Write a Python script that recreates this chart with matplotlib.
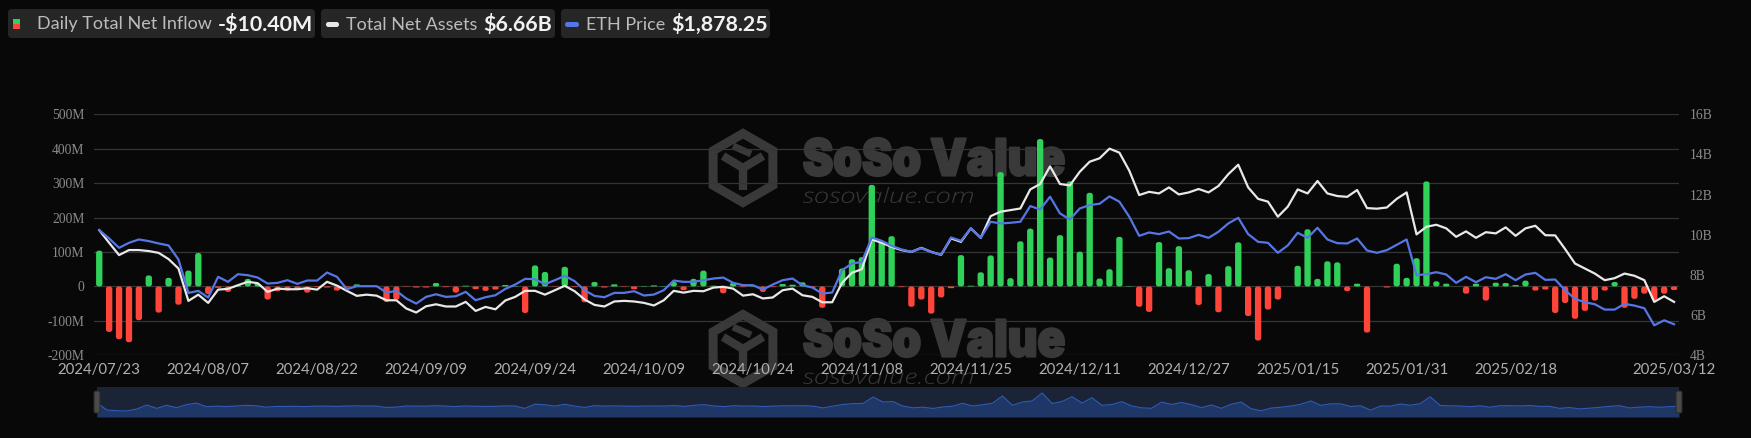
import numpy as np
import pandas as pd
import matplotlib
matplotlib.use("Agg")
import matplotlib.pyplot as plt
from matplotlib.patches import FancyBboxPatch, Polygon, PathPatch, Rectangle
from matplotlib.textpath import TextPath
from matplotlib.font_manager import FontProperties
from matplotlib.transforms import Affine2D

# ---------------- data ----------------
holidays = ["2024-09-02", "2024-11-28", "2024-12-25", "2025-01-01",
            "2025-01-09", "2025-01-20", "2025-02-17"]
trade_days = pd.bdate_range("2024-07-23", "2025-03-12", freq="C", holidays=holidays)
dates = [d.strftime("%Y/%m/%d") for d in trade_days]

net_inflow_m = [
    104, -132, -153, -162, -98, 32, -76, 25, -53, 46,
    97, -22, -4, -16, 2, 22, 8, -38, -14, -12,
    -10, -18, -2, -3, -12, -3, 6, -1, 1, -45,
    -38, -1, -3, -3, 10, -2, -18, 2, -8, -13,
    -9, 4, 1, -77, 61, 42, -1, 57, -2, -46,
    13, -3, 6, -1, -8, 1, 3, 1, 13, -11,
    22, 46, 2, -20, 10, -2, 1, -16, -2, 7,
    5, 12, -4, -62, 0, 52, 79, 85, 295, 132,
    146, -2, -59, -38, -79, -32, -5, 91, 2, 41,
    90, 332, 24, 131, 168, 428, 84, 149, 305, 101,
    272, 23, 50, 144, 1, -59, -74, 129, 53, 117,
    47, -54, 36, -75, 59, 128, -86, -157, -67, -38,
    0, 60, 166, 22, 73, 70, -14, 8, -134, 0,
    -3, 66, 25, 82, 305, 15, 8, 0, -21, 8,
    -41, 11, 10, 4, 17, -12, -9, -77, -48, -94,
    -71, -41, -12, 13, -62, -36, -21, -39, -21, -10.40,
]

total_net_assets_b = [
    10.23, 9.60, 8.99, 9.24, 9.24, 9.19, 9.10, 8.79, 8.32, 6.71,
    7.02, 6.61, 7.27, 7.31, 7.49, 7.66, 7.59, 7.16, 7.32, 7.29,
    7.29, 7.34, 7.27, 7.66, 7.47, 7.21, 6.96, 7.02, 6.97, 6.74,
    6.74, 6.33,
    6.13, 6.44, 6.54, 6.43, 6.43, 6.66, 6.21, 6.41, 6.29, 6.73,
    6.91, 7.21, 7.21, 7.02, 7.24, 7.46, 7.19, 6.78, 6.51, 6.43,
    6.68, 6.71, 6.68, 6.61, 6.48, 6.74, 7.21, 7.12, 7.21, 7.19,
    7.37, 7.41,
    7.32, 6.97, 7.04, 6.83, 6.88, 7.24, 7.32, 6.99, 6.91, 6.64,
    6.64, 7.61, 8.11, 8.29, 9.77, 9.60, 9.40, 9.24, 9.15, 9.35,
    9.15, 9.00, 9.82, 9.65, 10.32, 9.85, 10.93, 11.15, 11.23, 11.31,
    12.26, 12.53,
    13.41, 12.53, 12.46, 13.14, 13.64, 13.81, 14.29, 14.09, 13.19, 11.98,
    12.14, 12.06, 12.36, 12.01, 12.11, 12.28, 12.11, 12.43, 13.02, 13.49,
    12.36, 11.79, 11.65, 10.90, 11.40, 12.26, 12.06, 12.68, 12.06, 11.93,
    11.89, 12.23,
    11.33, 11.30, 11.36, 11.79, 12.11, 10.02, 10.40, 10.50, 10.32, 9.90,
    10.17, 9.85, 10.13, 10.07, 10.37, 9.95, 10.32, 10.45, 9.98, 9.97,
    9.29, 8.57, 8.32, 8.07, 7.74, 7.84, 8.07, 7.96, 7.74, 6.66,
    6.94, 6.66,
]

eth_price = [
    3480, 3338, 3179, 3264, 3321, 3293, 3253, 3219, 2980, 2412,
    2446, 2333, 2685, 2600, 2730, 2713, 2673, 2571, 2583, 2628,
    2566, 2622, 2622, 2759, 2685, 2475, 2526, 2526, 2526, 2418,
    2446, 2316,
    2230, 2344, 2389, 2344, 2355, 2429, 2287, 2338, 2372, 2480,
    2554, 2651, 2645, 2560, 2628, 2702, 2611, 2458, 2361, 2338,
    2412, 2412, 2441, 2367, 2384, 2458, 2622, 2600, 2600, 2628,
    2656, 2673,
    2583, 2543, 2543, 2469, 2554, 2628, 2656, 2543, 2503, 2401,
    2418, 2798, 2912, 2940, 3355, 3298, 3213, 3151, 3111, 3173,
    3105, 3060, 3355, 3298, 3508, 3349, 3622, 3594, 3605, 3622,
    3889, 3832,
    4048, 3764, 3662, 3849, 3906, 3929, 4054, 3963, 3707, 3383,
    3440, 3412, 3457, 3338, 3344, 3400, 3349, 3452, 3594, 3690,
    3412, 3281, 3264, 3094, 3219, 3435, 3349, 3520, 3321, 3258,
    3253, 3338,
    3134, 3094, 3139, 3230, 3321, 2713, 2730, 2764, 2725, 2583,
    2685, 2594, 2679, 2651, 2730, 2628, 2725, 2753, 2634, 2639,
    2458, 2310, 2253, 2219, 2128, 2128, 2225, 2196, 2151, 1861,
    1946, 1878.25,
]

left_ticks_m = [-200, -100, 0, 100, 200, 300, 400, 500]
right_ticks_b = [4, 6, 8, 10, 12, 14, 16]
eth_axis_range = [1350, 5451]
label_step = 11

legend_labels = ["Daily Total Net Inflow", "Total Net Assets", "ETH Price"]
legend_values = ["-$10.40M", "$6.66B", "$1,878.25"]

# ---------------- style ----------------
BG = "#080808"
GRID = "#353535"
GREEN = "#30d158"
RED = "#ff453a"
WHITE_LINE = "#e8e8e8"
BLUE_LINE = "#5676e6"
WM = "#393939"
BOX = "#262626"

W, H = 1751, 438
PL, PR, PT, PB = 94.3, 1679.0, 114.3, 355.3


def frac(x0, y0, x1, y1):
    return [x0 / W, 1 - y1 / H, (x1 - x0) / W, (y1 - y0) / H]


fig = plt.figure(figsize=(W / 100, H / 100), dpi=100, facecolor=BG)

# background overlay (watermark)
bg = fig.add_axes([0, 0, 1, 1], zorder=0)
bg.set_xlim(0, W)
bg.set_ylim(H, 0)
bg.axis("off")
bg.set_facecolor(BG)


def text_patch(axp, s, x0, x1, ytop, ybot, fam, weight, style, color, stroke=0):
    tp = TextPath((0, 0), s, size=100,
                  prop=FontProperties(family=fam, weight=weight, style=style))
    bb = tp.get_extents()
    sx = (x1 - x0) / bb.width
    sy = (ybot - ytop) / bb.height
    tr = Affine2D().translate(-bb.x0, -bb.y0).scale(sx, -sy).translate(x0, ybot)
    axp.add_patch(PathPatch(tr.transform_path(tp), fc=color,
                            ec=color if stroke else "none", lw=stroke,
                            joinstyle="round"))


def hexagon(axp, cx, cy, r):
    ang = np.radians([90, 150, 210, 270, 330, 30])
    pts = np.column_stack([cx + r * np.cos(ang), cy - r * np.sin(ang)])
    axp.add_patch(Polygon(pts, closed=True, fill=False, ec=WM, lw=6.5,
                          joinstyle="miter"))
    axp.plot([cx - 20, cx, cx + 20], [cy - 12, cy, cy - 12], color=WM, lw=6,
             solid_capstyle="butt")
    axp.plot([cx, cx], [cy, cy + 22], color=WM, lw=6, solid_capstyle="butt")
    axp.plot([cx - 10, cx + 8], [cy - 22, cy - 14], color=WM, lw=5,
             solid_capstyle="butt")


for dy in (0, 181):
    hexagon(bg, 743, 168 + dy, 34.5)
    text_patch(bg, "SoSo Value", 804, 1064, 138 + dy, 176 + dy,
               "Inter", "black", "normal", WM, stroke=1.6)
    text_patch(bg, "sosovalue.com", 803, 973, 187 + dy, 203 + dy,
               "Open Sans", "light", "italic", WM)

# ---------------- main axes ----------------
n = len(dates)
x = np.arange(n)

ax = fig.add_axes(frac(PL, PT, PR, PB), zorder=1)
ax.patch.set_visible(False)
ax.set_xlim(-0.5, n - 0.5)
ax.set_ylim(left_ticks_m[0], left_ticks_m[-1])
ax.set_yticks(left_ticks_m)
ax.set_yticklabels([("0" if v == 0 else f"{v}M") for v in left_ticks_m],
                   fontfamily="Liberation Serif", fontsize=9.8, color="#8a8a8a")
ax.yaxis.grid(True, color=GRID, lw=0.9, zorder=0)
ax.set_axisbelow(True)
for s in ax.spines.values():
    s.set_visible(False)
tick_idx = list(range(0, n, label_step))
if (n - 1 - tick_idx[-1]) < 8:
    tick_idx = tick_idx[:-1]
tick_idx.append(n - 1)
ax.set_xticks(tick_idx)
ax.set_xticklabels([dates[i] for i in tick_idx], fontfamily="Lato",
                   fontsize=10.8, color="#b0b0b0")
ax.tick_params(axis="both", length=0)
ax.tick_params(axis="y", pad=7.2)
ax.tick_params(axis="x", pad=5.5)

colors = [GREEN if v >= 0 else RED for v in net_inflow_m]
bars = ax.bar(x, net_inflow_m, width=0.64, color=colors, zorder=2)
y_per_px = (left_ticks_m[-1] - left_ticks_m[0]) / (PB - PT)
x_per_px = 1.0 / ((PR - PL) / n)
aspect = y_per_px / x_per_px
for rect in list(bars.patches):
    bx, by = rect.get_x(), rect.get_y()
    bw, bh = rect.get_width(), rect.get_height()
    y0 = min(by, by + bh)
    hh = abs(bh)
    hpx = hh / y_per_px
    rr = min(0.25, (hpx / 2.0) * x_per_px)
    fb = FancyBboxPatch((bx, y0), bw, hh,
                        boxstyle=f"round,pad=0,rounding_size={max(rr, 1e-4)}",
                        mutation_aspect=aspect, fc=rect.get_facecolor(),
                        ec="none", lw=0, zorder=2)
    rect.remove()
    ax.add_patch(fb)

# total net assets (right axis)
ax2 = fig.add_axes(frac(PL, PT, PR, PB), zorder=2)
ax2.patch.set_visible(False)
ax2.set_xlim(-0.5, n - 0.5)
ax2.set_ylim(right_ticks_b[0], right_ticks_b[-1])
ax2.plot(x, total_net_assets_b, color=WHITE_LINE, lw=1.6, solid_joinstyle="round")
ax2.yaxis.tick_right()
ax2.set_yticks(right_ticks_b)
ax2.set_yticklabels([f"{v}B" for v in right_ticks_b],
                    fontfamily="Liberation Serif", fontsize=9.8, color="#8a8a8a")
ax2.tick_params(axis="y", length=0, pad=7.9)
ax2.tick_params(axis="x", bottom=False, labelbottom=False)
for s in ax2.spines.values():
    s.set_visible(False)

# ETH price (hidden axis)
ax3 = fig.add_axes(frac(PL, PT, PR, PB), zorder=3)
ax3.patch.set_visible(False)
ax3.set_xlim(-0.5, n - 0.5)
ax3.set_ylim(*eth_axis_range)
ax3.plot(x, eth_price, color=BLUE_LINE, lw=1.6, solid_joinstyle="round")
ax3.axis("off")

# ---------------- data zoom slider ----------------
sl = fig.add_axes(frac(97, 387, 1679, 417), zorder=4)
sl.set_facecolor("#1b2436")
sl.fill_between(x, net_inflow_m, -360, color="#1f3766", lw=0)
sl.plot(x, net_inflow_m, color="#2e5bb8", lw=0.8)
sl.set_xlim(0, n - 1)
sl.set_ylim(-360, 625)
sl.set_xticks([])
sl.set_yticks([])
for s in sl.spines.values():
    s.set_visible(False)

# ---------------- foreground overlay (legend, handles) ----------------
fg = fig.add_axes([0, 0, 1, 1], zorder=6)
fg.set_xlim(0, W)
fg.set_ylim(H, 0)
fg.axis("off")
fg.patch.set_visible(False)

for hx in (97, 1679):
    fg.add_patch(FancyBboxPatch((hx - 3, 391), 6, 22,
                                boxstyle="round,pad=0,rounding_size=2",
                                fc="#4a4a4a", ec="#2a2a2a", lw=0.8))

boxes = [(8, 315), (321, 555), (561, 770)]
label_x = [37, 346, 586]
value_x = [218, 483, 671]
for (bx0, bx1) in boxes:
    fg.add_patch(FancyBboxPatch((bx0, 9), bx1 - bx0, 29,
                                boxstyle="round,pad=0,rounding_size=4",
                                fc=BOX, ec="none"))
fg.add_patch(Rectangle((13, 19), 7, 5, fc=GREEN, ec="none"))
fg.add_patch(Rectangle((13, 24), 7, 5, fc=RED, ec="none"))
fg.add_patch(FancyBboxPatch((326, 22), 13, 5, boxstyle="round,pad=0,rounding_size=2.4",
                            fc=WHITE_LINE, ec="none"))
fg.add_patch(FancyBboxPatch((565, 22), 14, 5, boxstyle="round,pad=0,rounding_size=2.4",
                            fc=BLUE_LINE, ec="none"))
for lx, vx, lab, val in zip(label_x, value_x, legend_labels, legend_values):
    fg.text(lx, 24.5, lab, ha="left", va="center", fontfamily="Lato",
            fontsize=13.0, color="#bcbcbc")
    fg.text(vx, 24.5, val, ha="left", va="center", fontfamily="Lato",
            fontweight="bold", fontsize=15.4, color="#f2f2f2")

fig.savefig("out.png", dpi=100, facecolor=BG)
